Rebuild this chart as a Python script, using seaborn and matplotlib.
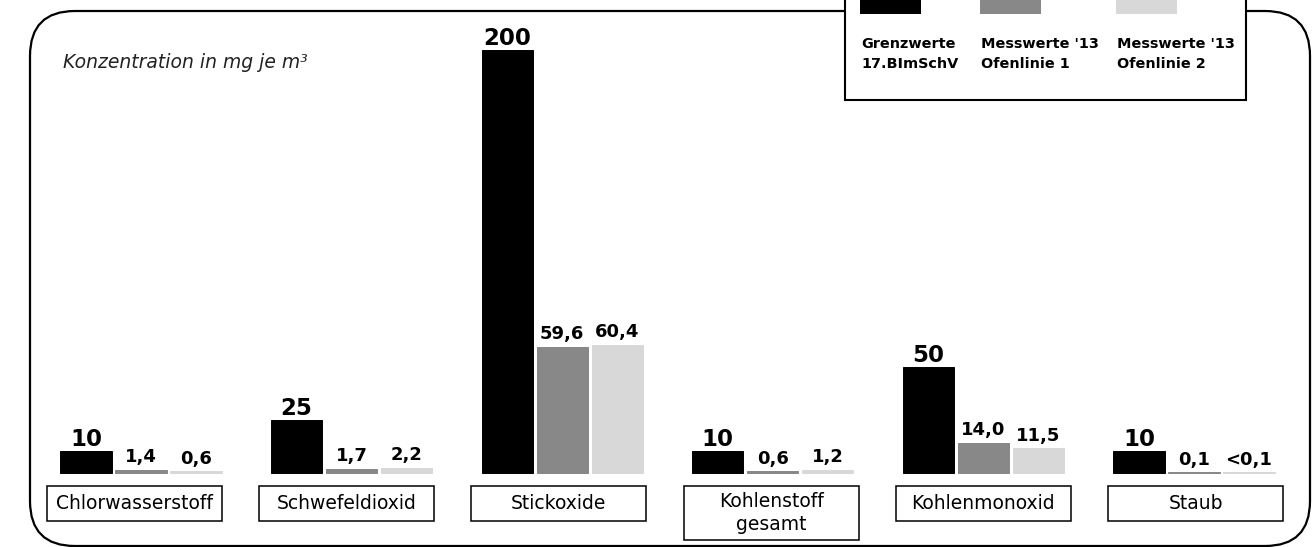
import numpy as np
import pandas as pd
import matplotlib.pyplot as plt
from matplotlib.patches import Rectangle, FancyBboxPatch
import seaborn as sns

# Daten
stoffe = ['Chlorwasserstoff', 'Schwefeldioxid', 'Stickoxide',
          'Kohlenstoff gesamt', 'Kohlenmonoxid', 'Staub']
stoff_texte = ['Chlorwasserstoff', 'Schwefeldioxid', 'Stickoxide',
               'Kohlenstoff\ngesamt', 'Kohlenmonoxid', 'Staub']
serien = ['Grenzwerte 17.BImSchV', "Messwerte '13 Ofenlinie 1", "Messwerte '13 Ofenlinie 2"]
serien_texte = ['Grenzwerte\n17.BImSchV', "Messwerte '13\nOfenlinie 1", "Messwerte '13\nOfenlinie 2"]

grenzwerte = [10, 25, 200, 10, 50, 10]
ofenlinie1 = [1.4, 1.7, 59.6, 0.6, 14.0, 0.1]
ofenlinie2 = [0.6, 2.2, 60.4, 1.2, 11.5, 0.05]   # <0,1

text_grenz = ['10', '25', '200', '10', '50', '10']
text_ol1 = ['1,4', '1,7', '59,6', '0,6', '14,0', '0,1']
text_ol2 = ['0,6', '2,2', '60,4', '1,2', '11,5', '<0,1']

farben = ['#000000', '#888888', '#d8d8d8']

df = pd.DataFrame({
    'stoff': stoffe * 3,
    'serie': np.repeat(serien, len(stoffe)),
    'wert': grenzwerte + ofenlinie1 + ofenlinie2,
})

sns.set_style('white')
plt.rcParams['font.family'] = ['DejaVu Sans']
plt.rcParams['text.color'] = 'black'

fig = plt.figure(figsize=(13.16, 5.47), dpi=100)
ax = fig.add_axes([0, 0, 1, 1])

sns.barplot(data=df, x='stoff', y='wert', hue='serie', order=stoffe, hue_order=serien,
            palette=farben, saturation=1, width=0.783, gap=0.07, errorbar=None,
            legend=False, ax=ax)

# kleine Werte sollen noch als Strich sichtbar sein
for c in ax.containers:
    for b in c:
        b.set_edgecolor(b.get_facecolor())
        b.set_linewidth(0.7)

# Skalierung: 1 Kategorie = 210.6 px, 1 mg = 2.1125 px, Basis bei 472.5 px
ax.set_xlim(-141 / 210.6, (1316 - 141) / 210.6)
ax.set_ylim(-(547 - 472.5) / 2.1125, 472.5 / 2.1125)
ax.set_axis_off()

for c, texte, gr, pad in zip(ax.containers, [text_grenz, text_ol1, text_ol2],
                             [16.5, 13, 13], [0, 2.5, 2.5]):
    ax.bar_label(c, labels=texte, padding=pad, fontsize=gr, fontweight='bold',
                 color='black')

# Dekoration in Pixelkoordinaten (von oben gemessen)
tr = fig.dpi_scale_trans


def px(x, y):
    return x / 100, (547 - y) / 100


rahmen = FancyBboxPatch(px(30, 546), 12.80, 5.35,
                        boxstyle='round,pad=0,rounding_size=0.45',
                        transform=tr, fill=False, ec='black', lw=1.6, zorder=1)
fig.add_artist(rahmen)

fig.text(*px(63, 68), 'Konzentration in mg je m³', transform=tr, fontsize=13.5,
         style='italic', va='baseline', ha='left', color='#222222')

# Legende
fig.add_artist(Rectangle(px(845, 100), 4.01, 1.2, transform=tr, fc='white',
                         ec='black', lw=1.5, zorder=3))
for x0, farbe, txt in zip([860, 980, 1116], farben, serien_texte):
    fig.add_artist(Rectangle(px(x0, 14), 0.61, 0.25, transform=tr, fc=farbe,
                             ec='none', zorder=4))
    fig.text(*px(x0 + 1, 54), txt, transform=tr, fontsize=10.4, fontweight='bold',
             va='center', ha='left', linespacing=1.55, zorder=5)

# Beschriftungskästen unter den Gruppen
for i, txt in enumerate(stoff_texte):
    cx = 134.5 + 212.2 * i
    h = 35 + 19 * txt.count('\n')
    fig.add_artist(Rectangle(px(cx - 87.5, 486 + h), 1.75, h / 100, transform=tr,
                             fc='white', ec='black', lw=1.1, zorder=3))
    fig.text(*px(cx, 486 + h / 2), txt, transform=tr, fontsize=13.5,
             ha='center', va='center', linespacing=1.3, zorder=4)

fig.savefig('out.png', dpi=100)
